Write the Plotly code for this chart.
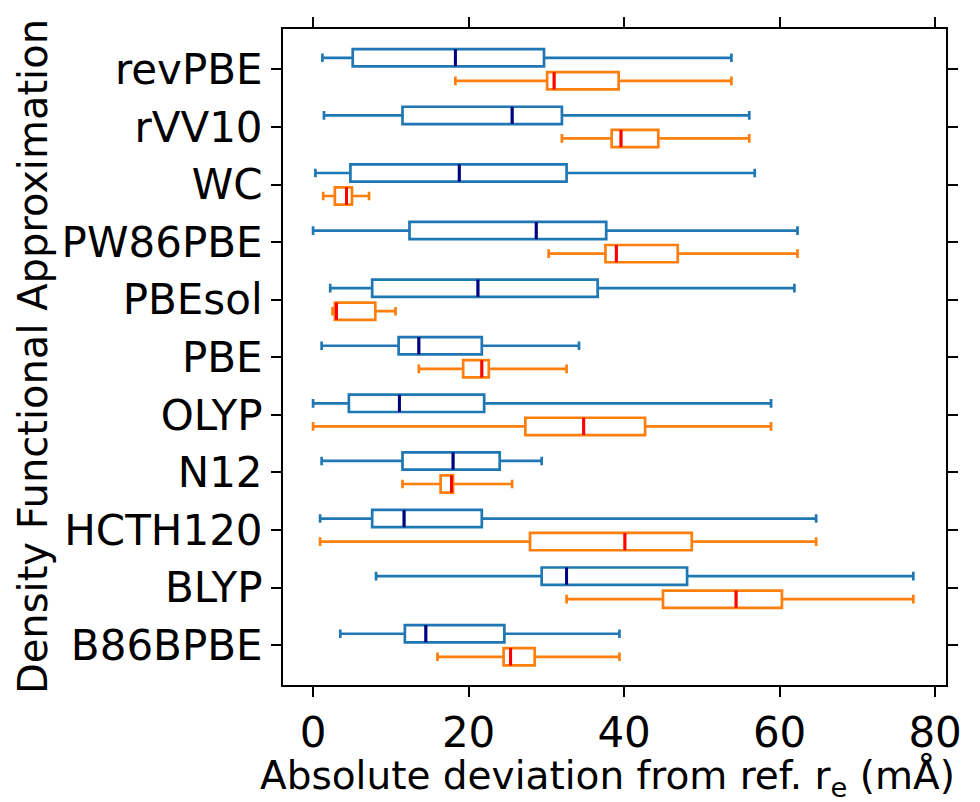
import plotly.graph_objects as go

# functionals, bottom to top (same order as the y positions 0..10)
functionals = ["B86BPBE", "BLYP", "HCTH120", "N12", "OLYP", "PBE",
               "PBEsol", "PW86PBE", "WC", "rVV10", "revPBE"]

# blue series (upper box of each pair)
blue_min = [3.5, 8.1, 0.9, 1.1, 0.0, 1.1, 2.2, 0.0, 0.3, 1.4, 1.2]
blue_q1 = [11.8, 29.4, 7.6, 11.5, 4.6, 11.0, 7.6, 12.4, 4.8, 11.5, 5.1]
blue_med = [14.5, 32.6, 11.7, 18.0, 11.1, 13.6, 21.2, 28.7, 18.8, 25.6, 18.3]
blue_q3 = [24.6, 48.1, 21.7, 24.0, 22.0, 21.7, 36.6, 37.7, 32.6, 32.0, 29.7]
blue_max = [39.4, 77.2, 64.7, 29.4, 58.9, 34.2, 61.9, 62.3, 56.8, 56.1, 53.8]

# orange series (lower box of each pair)
orange_min = [16.0, 32.6, 0.9, 11.5, 0.0, 13.6, 2.5, 30.3, 1.3, 32.0, 18.3]
orange_q1 = [24.5, 45.0, 27.9, 16.4, 27.3, 19.3, 2.8, 37.6, 2.8, 38.4, 30.1]
orange_med = [25.4, 54.4, 40.1, 17.8, 34.8, 21.7, 3.0, 39.0, 4.3, 39.6, 31.0]
orange_q3 = [28.5, 60.3, 48.7, 18.0, 42.7, 22.6, 8.0, 46.9, 5.0, 44.4, 39.3]
orange_max = [39.4, 77.2, 64.7, 25.6, 58.9, 32.6, 10.6, 62.3, 7.2, 56.1, 53.8]

x_ticks = [0, 20, 40, 60, 80]

FONT = "DejaVu Sans"
OFFSET = 0.2
BOX_W = 0.3

pos = list(range(len(functionals)))
blue_pos = [p + OFFSET for p in pos]
orange_pos = [p - OFFSET for p in pos]


def box_trace(y, lo, q1, med, q3, hi, color):
    return go.Box(
        y=y, lowerfence=lo, q1=q1, median=med, q3=q3, upperfence=hi,
        orientation="h", width=BOX_W, whiskerwidth=0.5,
        boxpoints=False,
        line=dict(color=color, width=2.7),
        fillcolor="rgba(0,0,0,0)",
        hoverinfo="skip",
        showlegend=False,
    )


def median_trace(y, med, color):
    # matplotlib draws the median in its own colour, so put it on top
    xs, ys = [], []
    for yy, m in zip(y, med):
        xs += [m, m, None]
        ys += [yy - BOX_W / 2, yy + BOX_W / 2, None]
    return go.Scatter(x=xs, y=ys, mode="lines",
                      line=dict(color=color, width=3),
                      hoverinfo="skip", showlegend=False)


fig = go.Figure()
fig.add_trace(box_trace(blue_pos, blue_min, blue_q1, blue_med, blue_q3, blue_max, "#1f77b4"))
fig.add_trace(box_trace(orange_pos, orange_min, orange_q1, orange_med, orange_q3, orange_max, "#ff7f0e"))
fig.add_trace(median_trace(blue_pos, blue_med, "navy"))
fig.add_trace(median_trace(orange_pos, orange_med, "red"))

axis_common = dict(
    showline=True, linecolor="black", linewidth=2, mirror="ticks",
    ticks="outside", ticklen=10, tickwidth=2, tickcolor="black",
    showgrid=False, zeroline=False, automargin=False,
    tickfont=dict(family=FONT, size=42, color="black"),
)

fig.update_layout(
    width=980, height=802,
    margin=dict(l=275, r=42, t=21, b=125),
    paper_bgcolor="white", plot_bgcolor="white",
    boxmode="overlay",
    font=dict(family=FONT, color="black"),
    xaxis=dict(range=[-3.87, 81.4], tickvals=x_ticks, **axis_common),
    yaxis=dict(range=[-0.69, 10.7], tickvals=pos, ticktext=functionals,
               **axis_common),
)

# axis titles as annotations so they sit where matplotlib put them
fig.add_annotation(
    text="Absolute deviation from ref. r<sub>e</sub> (mÅ)",
    xref="paper", yref="paper", x=0.49, y=-0.1829,
    xanchor="center", yanchor="bottom", showarrow=False,
    font=dict(family=FONT, size=39, color="black"),
)
fig.add_annotation(
    text="Density Functional Approximation",
    xref="paper", yref="paper", x=-0.377, y=0.5, textangle=-90,
    xanchor="center", yanchor="middle", showarrow=False,
    font=dict(family=FONT, size=40, color="black"),
)

fig.write_html("out.html")
